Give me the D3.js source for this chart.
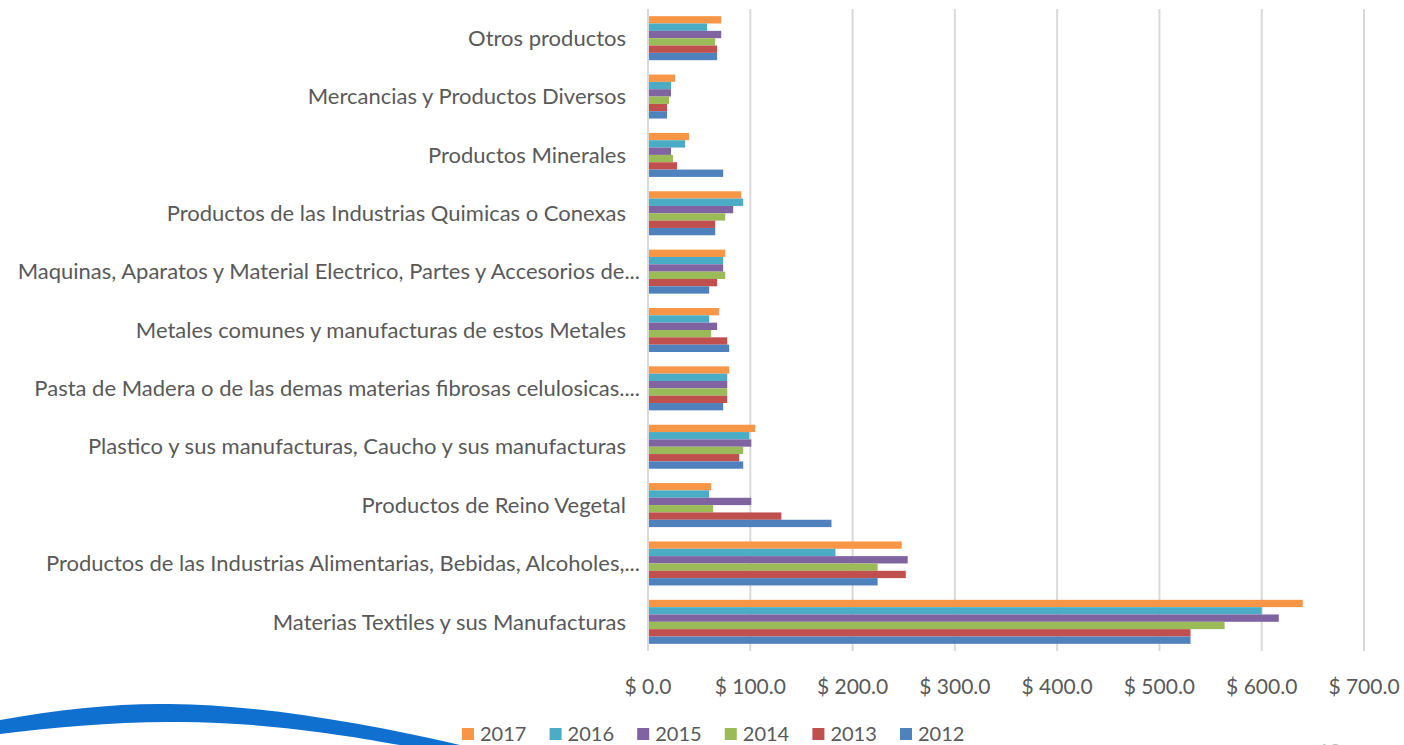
<!DOCTYPE html>
<html>
<head>
<meta charset="utf-8">
<script src="https://cdn.jsdelivr.net/npm/d3@7"></script>
<style>
  html, body { margin: 0; padding: 0; background: #fff; }
  svg { display: block; font-family: Lato, "Liberation Sans", sans-serif; }
</style>
</head>
<body>
<div id="chart"></div>
<script>
// categories, top to bottom
const categories = [
  'Otros productos',
  'Mercancias y Productos Diversos',
  'Productos Minerales',
  'Productos de las Industrias Quimicas o Conexas',
  'Maquinas, Aparatos y Material Electrico, Partes y Accesorios de...',
  'Metales comunes y manufacturas de estos Metales',
  'Pasta de Madera o de las demas materias fibrosas celulosicas....',
  'Plastico y sus manufacturas, Caucho y sus manufacturas',
  'Productos de Reino Vegetal',
  'Productos de las Industrias Alimentarias, Bebidas, Alcoholes,...',
  'Materias Textiles y sus Manufacturas'
];

const years = ['2017', '2016', '2015', '2014', '2013', '2012'];
const colors = ['#F79646', '#4BACC6', '#8064A2', '#9BBB59', '#C0504D', '#4F81BD'];

// values per year, same order as categories
const v2017 = [71.6, 26.5, 40.2, 91.2, 75.5, 69.6, 79.4, 104.9, 61.8, 248.0, 640.2];
const v2016 = [57.8, 22.5, 36.3, 93.1, 73.5, 59.8, 77.5, 99.0, 59.8, 183.3, 600.0];
const v2015 = [71.6, 22.5, 22.5, 83.3, 73.5, 67.6, 77.5, 101.0, 101.0, 253.9, 616.7];
const v2014 = [65.7, 20.6, 24.5, 75.5, 75.5, 61.8, 77.5, 93.1, 63.7, 224.5, 563.7];
const v2013 = [67.6, 18.6, 28.4, 65.7, 67.6, 77.5, 77.5, 89.2, 130.4, 252.0, 530.4];
const v2012 = [67.6, 18.6, 73.5, 65.7, 59.8, 79.4, 73.5, 93.1, 179.4, 224.5, 530.4];
const seriesValues = [v2017, v2016, v2015, v2014, v2013, v2012];

const xTicks = [0, 100, 200, 300, 400, 500, 600, 700];

const W = 1404, H = 745;
const plot = { left: 648, right: 1364, top: 9, bottom: 651 };
const textColor = '#595959';

const svg = d3.select('#chart').append('svg')
  .attr('width', W).attr('height', H);

const x = d3.scaleLinear().domain([0, 700]).range([plot.left, plot.right]);
const y = d3.scaleBand().domain(categories).range([plot.top, plot.bottom])
  .paddingInner(0.246).paddingOuter(0.123);
const yInner = d3.scaleBand().domain(years).range([0, y.bandwidth()]);

// decorative swoosh, bottom left
svg.append('path')
  .attr('d', 'M0,720 C60,709 120,703 170,704 C260,705 360,722 460,745 L400,745 C350,736 260,721 170,722 C110,722 50,728 0,734 Z')
  .attr('fill', '#1070CF');

// grid lines
svg.append('g')
  .selectAll('line')
  .data(xTicks)
  .join('line')
  .attr('x1', d => x(d)).attr('x2', d => x(d))
  .attr('y1', plot.top).attr('y2', plot.bottom)
  .attr('stroke', '#d9d9d9').attr('stroke-width', 2);

// bars
const groups = svg.append('g')
  .selectAll('g')
  .data(categories)
  .join('g')
  .attr('transform', d => `translate(0,${y(d)})`);

groups.selectAll('rect')
  .data((c, i) => years.map((yr, k) => ({ yr, k, v: seriesValues[k][i] })))
  .join('rect')
  .attr('x', x(0) + 1)
  .attr('y', d => yInner(d.yr))
  .attr('width', d => x(d.v) - x(0) - 1)
  .attr('height', yInner.bandwidth())
  .attr('fill', d => colors[d.k]);

// category labels
svg.append('g')
  .selectAll('text')
  .data(categories)
  .join('text')
  .attr('x', d => d.endsWith('...') ? 640 : 626)
  .attr('y', d => y(d) + y.bandwidth() / 2)
  .attr('dy', '0.35em')
  .attr('text-anchor', 'end')
  .attr('font-size', '22px')
  .attr('fill', textColor)
  .text(d => d);

// x axis labels
svg.append('g')
  .selectAll('text')
  .data(xTicks)
  .join('text')
  .attr('x', d => x(d))
  .attr('y', 694)
  .attr('text-anchor', 'middle')
  .attr('font-size', '21px')
  .attr('fill', textColor)
  .text(d => '$ ' + d3.format('.1f')(d));

// legend
const legend = svg.append('g')
  .selectAll('g')
  .data(years)
  .join('g')
  .attr('transform', (d, i) => `translate(${462 + i * 87.6},728)`);

legend.append('rect')
  .attr('width', 12).attr('height', 12)
  .attr('fill', (d, i) => colors[i]);

legend.append('text')
  .attr('x', 18).attr('y', 13)
  .attr('font-size', '20px')
  .attr('fill', textColor)
  .text(d => d);

// page number, cut by the bottom edge
svg.append('text')
  .attr('x', 1318).attr('y', 758)
  .attr('font-size', '20px')
  .attr('fill', '#bfbfbf')
  .text('18');
</script>
</body>
</html>
